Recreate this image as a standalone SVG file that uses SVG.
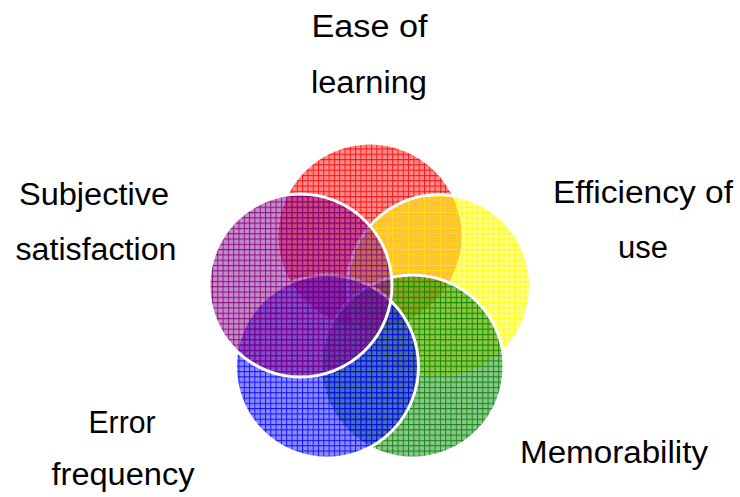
<svg xmlns="http://www.w3.org/2000/svg" width="740" height="497" viewBox="0 0 740 497">
<style>
.lbl{font-family:"Liberation Sans",Arial,sans-serif;font-size:31px;fill:#000;text-anchor:middle}
.c{stroke:#fff;stroke-width:3}
</style>
<defs>
<pattern id="pR" width="5.3" height="5.3" patternUnits="userSpaceOnUse"><rect width="5.3" height="5.3" fill="#ff0000" fill-opacity="0.45"/><path d="M0 0.5H5.3M0.5 0V5.3" stroke="#ff0000" stroke-opacity="0.85" fill="none"/></pattern>
<pattern id="pY" width="5.3" height="5.3" patternUnits="userSpaceOnUse"><rect width="5.3" height="5.3" fill="#ffff00" fill-opacity="0.45"/><path d="M0 0.5H5.3M0.5 0V5.3" stroke="#ffff00" stroke-opacity="0.85" fill="none"/></pattern>
<pattern id="pG" width="5.3" height="5.3" patternUnits="userSpaceOnUse"><rect width="5.3" height="5.3" fill="#008000" fill-opacity="0.45"/><path d="M0 0.5H5.3M0.5 0V5.3" stroke="#008000" stroke-opacity="0.85" fill="none"/></pattern>
<pattern id="pB" width="5.3" height="5.3" patternUnits="userSpaceOnUse"><rect width="5.3" height="5.3" fill="#0000ff" fill-opacity="0.45"/><path d="M0 0.5H5.3M0.5 0V5.3" stroke="#0000ff" stroke-opacity="0.85" fill="none"/></pattern>
<pattern id="pP" width="5.3" height="5.3" patternUnits="userSpaceOnUse"><rect width="5.3" height="5.3" fill="#800080" fill-opacity="0.45"/><path d="M0 0.5H5.3M0.5 0V5.3" stroke="#800080" stroke-opacity="0.85" fill="none"/></pattern>
</defs>
<g id="ease">
<circle cx="370" cy="236" r="91.5" fill="url(#pR)"/>
<text class="lbl" x="369.5" y="37" textLength="116" lengthAdjust="spacingAndGlyphs">Ease of</text>
<text class="lbl" x="369" y="93" textLength="116" lengthAdjust="spacingAndGlyphs">learning</text>
</g>
<g id="efficiency">
<circle class="c" cx="439" cy="286" r="91.5" fill="url(#pY)"/>
<text class="lbl" x="643" y="203" textLength="180" lengthAdjust="spacingAndGlyphs">Efficiency of</text>
<text class="lbl" x="643" y="258" textLength="50" lengthAdjust="spacingAndGlyphs">use</text>
</g>
<g id="memorability">
<circle class="c" cx="412.5" cy="366.5" r="91.5" fill="url(#pG)"/>
<text class="lbl" x="614" y="463" textLength="188" lengthAdjust="spacingAndGlyphs">Memorability</text>
</g>
<g id="error">
<circle class="c" cx="327" cy="366.5" r="91.5" fill="url(#pB)"/>
<text class="lbl" x="122" y="433" textLength="67" lengthAdjust="spacingAndGlyphs">Error</text>
<text class="lbl" x="123" y="485" textLength="143" lengthAdjust="spacingAndGlyphs">frequency</text>
</g>
<g id="satisfaction">
<circle class="c" cx="300.5" cy="285.5" r="91.5" fill="url(#pP)"/>
<text class="lbl" x="94" y="205" textLength="150" lengthAdjust="spacingAndGlyphs">Subjective</text>
<text class="lbl" x="96" y="260" textLength="161" lengthAdjust="spacingAndGlyphs">satisfaction</text>
</g>
<g id="connectors"/>
</svg>
